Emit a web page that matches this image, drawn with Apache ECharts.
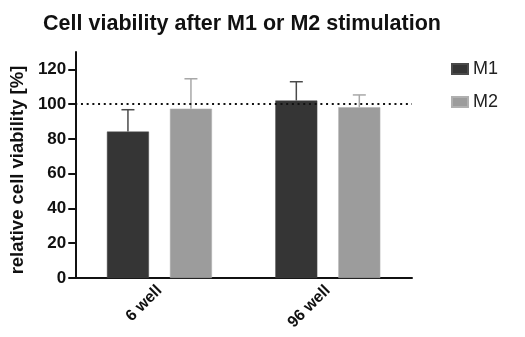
<!DOCTYPE html>
<html>
<head>
<meta charset="utf-8">
<script src="https://cdn.jsdelivr.net/npm/echarts@6/dist/echarts.min.js"></script>
<style>
  html, body { margin: 0; padding: 0; background: #fff; }
  #chart { width: 525px; height: 337px; }
</style>
</head>
<body>
<div id="chart"></div>
<script>
  "use strict";

  // ---- data ----
  const categories = ["6 well", "96 well"];
  const m1Values = [84.2, 102.1];
  const m1ErrTop = [96.8, 112.9];
  const m2Values = [97.4, 98.2];
  const m2ErrTop = [114.6, 105.3];
  const yTicks = [0, 20, 40, 60, 80, 100, 120];
  const refLine = 100;

  const FONT = "Liberation Sans, Arial, sans-serif";
  const M1_COLOR = "#353535";
  const M2_COLOR = "#9c9c9c";

  // upper error whisker for one series, offset to its bar
  function errorSeries(name, tops, color, offset) {
    return {
      name: name + " err",
      type: "custom",
      z: 1,
      silent: true,
      data: tops.map((t, i) => [i, t]),
      renderItem(params, api) {
        const i = api.value(0);
        const base = api.coord([i, name === "M1" ? m1Values[i] : m2Values[i]]);
        const top = api.coord([i, api.value(1)]);
        const x = base[0] + offset;
        const cap = 6.5;
        const style = { stroke: color, lineWidth: 1.5 };
        return {
          type: "group",
          children: [
            { type: "line", shape: { x1: x, y1: base[1], x2: x, y2: top[1] }, style },
            { type: "line", shape: { x1: x - cap, y1: top[1], x2: x + cap, y2: top[1] }, style }
          ]
        };
      }
    };
  }

  const chart = echarts.init(document.getElementById("chart"), null, { renderer: "canvas" });
  chart.setOption({
    animation: false,
    textStyle: { fontFamily: FONT },
    title: {
      text: "Cell viability after M1 or M2 stimulation",
      left: 237, top: 8, textAlign: "center",
      textStyle: { fontSize: 21.5, fontWeight: "bold", color: "#111", fontFamily: FONT }
    },
    legend: {
      data: ["M1", "M2"],
      orient: "vertical",
      left: 446, top: 55,
      icon: "rect",
      itemWidth: 16, itemHeight: 10, itemGap: 15,
      textStyle: { fontSize: 18, color: "#222", fontFamily: FONT }
    },
    grid: { left: 72, right: 113, top: 52, bottom: 59 },
    xAxis: {
      type: "category",
      data: categories,
      axisLine: { lineStyle: { color: "#111", width: 2 } },
      axisTick: { alignWithLabel: true, length: 5, lineStyle: { width: 2, color: "#111" } },
      axisLabel: { rotate: 45, margin: 10, fontSize: 16, fontWeight: "bold", color: "#111", fontFamily: FONT }
    },
    yAxis: {
      type: "value",
      min: 0, max: 130,
      name: "relative cell viability [%]",
      nameLocation: "middle",
      nameRotate: 90,
      nameGap: 42,
      nameTextStyle: {
        fontSize: 18.5, fontWeight: "bold", color: "#111", fontFamily: FONT,
        padding: [0, 10, 0, 0]
      },
      splitLine: { show: false },
      axisLine: { show: true, lineStyle: { color: "#111", width: 2 } },
      axisTick: { show: true, length: 7, customValues: yTicks, lineStyle: { width: 2, color: "#111" } },
      axisLabel: { customValues: yTicks, margin: 9, fontSize: 17, fontWeight: "bold", color: "#111", fontFamily: FONT }
    },
    series: [
      {
        name: "M1", type: "bar", data: m1Values,
        barWidth: 42, barGap: "50%", z: 2,
        itemStyle: { color: M1_COLOR, borderColor: "#4a4a4a", borderWidth: 0.5 },
        markLine: {
          silent: true, symbol: "none", label: { show: false },
          lineStyle: { color: "#111", type: [2, 3.7], width: 2 },
          data: [{ yAxis: refLine }]
        }
      },
      {
        name: "M2", type: "bar", data: m2Values,
        barWidth: 42, z: 2,
        itemStyle: { color: M2_COLOR, borderColor: "#b0b0b0", borderWidth: 0.5 }
      },
      errorSeries("M1", m1ErrTop, "#4a4a4a", -31.5),
      errorSeries("M2", m2ErrTop, "#a8a8a8", 31.5)
    ]
  });
</script>
</body>
</html>
